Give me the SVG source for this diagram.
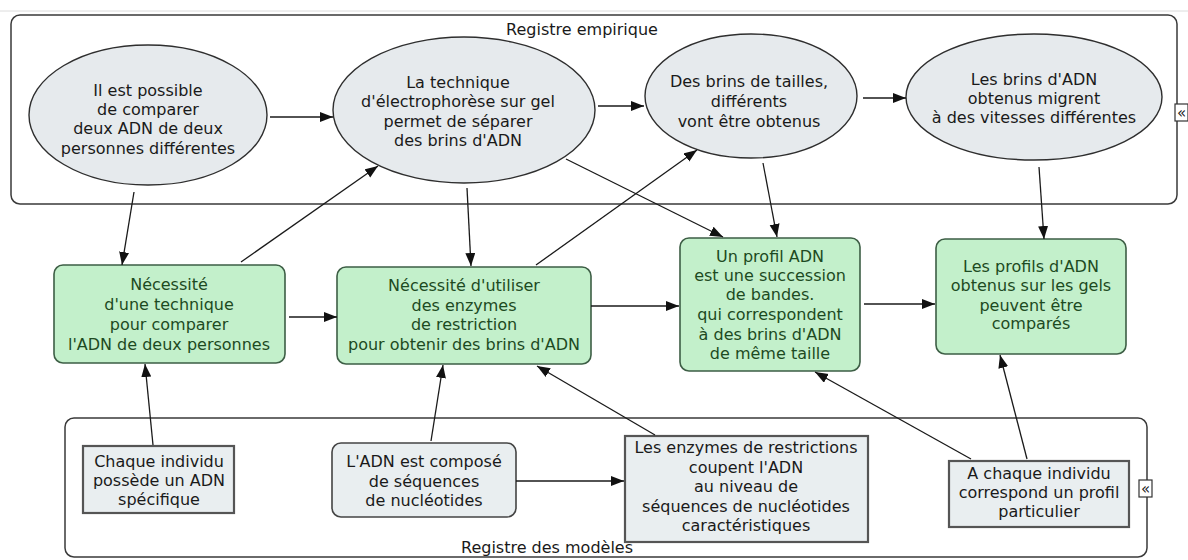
<svg xmlns="http://www.w3.org/2000/svg" width="1188" height="560" viewBox="0 0 1188 560">
<defs>
<marker id="ah" markerUnits="userSpaceOnUse" markerWidth="14" markerHeight="11" refX="13" refY="5" orient="auto">
<path d="M0,0 L13,5 L0,10 z" fill="#111"/>
</marker>
<style>
text{font-family:"DejaVu Sans","Liberation Sans",sans-serif;font-size:16px;text-anchor:middle;fill:#1a1a1a}
.cont{fill:none;stroke:#3a3a3a;stroke-width:1.5}
.ell{fill:#e6eaed;stroke:#2e2e2e;stroke-width:1.4}
.grn{fill:#c3f0cb;stroke:#3d5e45;stroke-width:1.6}
.grn-t{fill:#1d4a22}
.gry{fill:#e9eef0;stroke:#555;stroke-width:2.2}
.gryr{fill:#e9eef0;stroke:#444;stroke-width:1.6}
.lnk line{stroke:#1a1a1a;stroke-width:1.3;marker-end:url(#ah)}
.ico{fill:#fff;stroke:#333;stroke-width:1.2}
.ico-t{font-size:15px}
</style>
</defs>
<rect width="1188" height="560" fill="#ffffff"/>
<line x1="0" y1="11" x2="1188" y2="11" stroke="#dcdcdc" stroke-width="1"/>

<g id="registre-empirique">
<rect class="cont" x="11" y="15" width="1166" height="189" rx="9"/>
<text x="582" y="35">Registre empirique</text>
<rect class="ico" x="1175" y="104" width="13" height="17"/>
<text class="ico-t" x="1181.5" y="118">«</text>
</g>

<g id="registre-modeles">
<rect class="cont" x="65" y="418" width="1082" height="139" rx="9"/>
<text x="547" y="553">Registre des modèles</text>
<rect class="ico" x="1139" y="480" width="13" height="17"/>
<text class="ico-t" x="1145.5" y="494">«</text>
</g>

<g id="e1">
<ellipse class="ell" cx="148" cy="115" rx="119" ry="70"/>
<text x="148" y="96">Il est possible</text>
<text x="148" y="115">de comparer</text>
<text x="148" y="134">deux ADN de deux</text>
<text x="148" y="154">personnes différentes</text>
</g>

<g id="e2">
<ellipse class="ell" cx="464" cy="110" rx="131" ry="73"/>
<text x="458" y="88">La technique</text>
<text x="458" y="107">d'électrophorèse sur gel</text>
<text x="458" y="127">permet de séparer</text>
<text x="458" y="146">des brins d'ADN</text>
</g>

<g id="e3">
<ellipse class="ell" cx="751" cy="96" rx="106" ry="62"/>
<text x="749" y="87">Des brins de tailles,</text>
<text x="749" y="107">différents</text>
<text x="749" y="127">vont être obtenus</text>
</g>

<g id="e4">
<ellipse class="ell" cx="1034" cy="97" rx="128" ry="63"/>
<text x="1034" y="85">Les brins d'ADN</text>
<text x="1034" y="104">obtenus migrent</text>
<text x="1034" y="123">à des vitesses différentes</text>
</g>

<g id="b1">
<rect class="grn" x="54" y="265" width="231" height="98" rx="9"/>
<text class="grn-t" x="169" y="290">Nécessité</text>
<text class="grn-t" x="169" y="310">d'une technique</text>
<text class="grn-t" x="169" y="330">pour comparer</text>
<text class="grn-t" x="169" y="350">l'ADN de deux personnes</text>
</g>

<g id="b2">
<rect class="grn" x="337" y="267" width="254" height="97" rx="9"/>
<text class="grn-t" x="464" y="291">Nécessité d'utiliser</text>
<text class="grn-t" x="464" y="311">des enzymes</text>
<text class="grn-t" x="464" y="330">de restriction</text>
<text class="grn-t" x="464" y="350">pour obtenir des brins d'ADN</text>
</g>

<g id="b3">
<rect class="grn" x="680" y="238" width="180" height="133" rx="9"/>
<text class="grn-t" x="770" y="262">Un profil ADN</text>
<text class="grn-t" x="770" y="281">est une succession</text>
<text class="grn-t" x="770" y="300">de bandes.</text>
<text class="grn-t" x="770" y="320">qui correspondent</text>
<text class="grn-t" x="770" y="340">à des brins d'ADN</text>
<text class="grn-t" x="770" y="359">de même taille</text>
</g>

<g id="b4">
<rect class="grn" x="936" y="239" width="190" height="115" rx="9"/>
<text class="grn-t" x="1031" y="272">Les profils d'ADN</text>
<text class="grn-t" x="1031" y="291">obtenus sur les gels</text>
<text class="grn-t" x="1031" y="311">peuvent être</text>
<text class="grn-t" x="1031" y="329">comparés</text>
</g>

<g id="m1">
<rect class="gry" x="83" y="446" width="151" height="67"/>
<text x="159" y="467">Chaque individu</text>
<text x="159" y="486">possède un ADN</text>
<text x="159" y="505">spécifique</text>
</g>

<g id="m2">
<rect class="gryr" x="332" y="443" width="184" height="74" rx="9"/>
<text x="424" y="467">L'ADN est composé</text>
<text x="424" y="487">de séquences</text>
<text x="424" y="506">de nucléotides</text>
</g>

<g id="m3">
<rect class="gry" x="625" y="436" width="243" height="106"/>
<text x="746" y="453">Les enzymes de restrictions</text>
<text x="746" y="473">coupent l'ADN</text>
<text x="746" y="492">au niveau de</text>
<text x="746" y="512">séquences de nucléotides</text>
<text x="746" y="531">caractéristiques</text>
</g>

<g id="m4">
<rect class="gry" x="949" y="461" width="180" height="66"/>
<text x="1039" y="479">A chaque individu</text>
<text x="1039" y="498">correspond un profil</text>
<text x="1039" y="517">particulier</text>
</g>

<g id="connectors" class="lnk">
<line x1="270" y1="117" x2="333" y2="117"/>
<line x1="598" y1="106" x2="644" y2="106"/>
<line x1="863" y1="98" x2="906" y2="98"/>
<line x1="134" y1="192" x2="122" y2="265"/>
<line x1="241" y1="262" x2="378" y2="166"/>
<line x1="467" y1="188" x2="471" y2="266"/>
<line x1="536" y1="265" x2="697" y2="150"/>
<line x1="566" y1="159" x2="723" y2="237"/>
<line x1="763" y1="163" x2="777" y2="237"/>
<line x1="1039" y1="167" x2="1044" y2="239"/>
<line x1="289" y1="317" x2="337" y2="317"/>
<line x1="591" y1="306" x2="679" y2="306"/>
<line x1="864" y1="304" x2="935" y2="304"/>
<line x1="153" y1="445" x2="145" y2="364"/>
<line x1="431" y1="441" x2="443" y2="365"/>
<line x1="655" y1="435" x2="537" y2="366"/>
<line x1="516" y1="481" x2="624" y2="481"/>
<line x1="971" y1="459" x2="815" y2="372"/>
<line x1="1027" y1="459" x2="1000" y2="355"/>
</g>
</svg>
